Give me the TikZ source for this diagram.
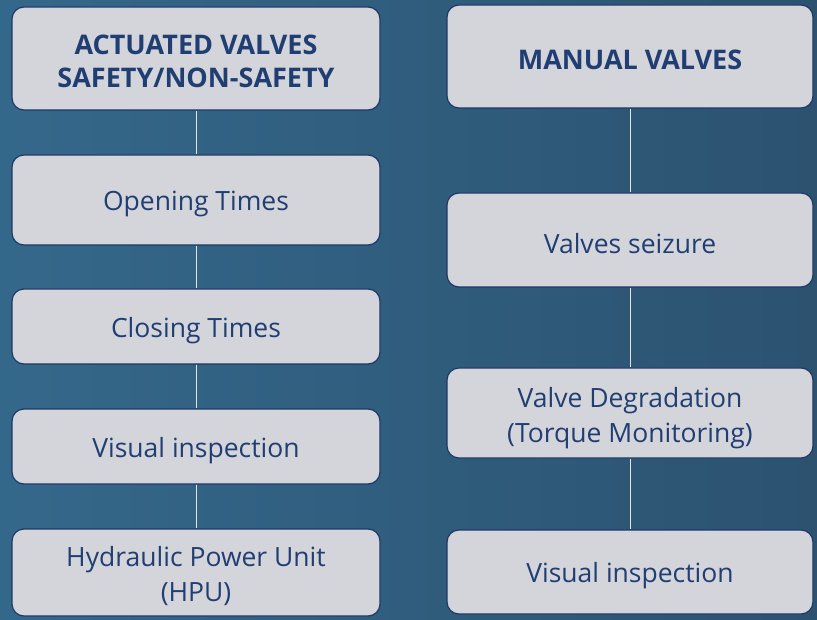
\documentclass[tikz,border=0pt]{standalone}
\usepackage{fontspec}
\setmainfont{Open Sans}
\definecolor{bgL}{RGB}{52,104,138}
\definecolor{bgR}{RGB}{44,82,112}
\definecolor{boxfill}{RGB}{212,213,219}
\definecolor{boxline}{RGB}{30,56,104}
\definecolor{txt}{RGB}{33,62,114}
\definecolor{conn}{RGB}{225,228,232}
\begin{document}
\begin{tikzpicture}[x=1pt,y=-1pt,
  vbox/.style={draw=boxline,line width=1.2pt,fill=boxfill,rounded corners=12pt},
  vtxt/.style={text=txt,align=center,inner sep=0pt,font=\fontsize{26.5}{35}\selectfont},
  htxt/.style={vtxt,font=\fontsize{27}{33}\selectfont\bfseries},
  link/.style={draw=conn,line width=1pt}]
\shade[left color=bgL,right color=bgR] (0,0) rectangle (817,620);
\useasboundingbox (0,0) rectangle (817,620);
% left column
\node[vbox,minimum width=368pt,minimum height=103pt] (a1) at (196,58.5) {};
\node[vbox,minimum width=368pt,minimum height=90pt] (a2) at (196,200) {};
\node[vbox,minimum width=368pt,minimum height=75pt] (a3) at (196,326.5) {};
\node[vbox,minimum width=368pt,minimum height=75pt] (a4) at (196,446.5) {};
\node[vbox,minimum width=368pt,minimum height=87pt] (a5) at (196,572.5) {};
% right column
\node[vbox,minimum width=366pt,minimum height=103pt] (b1) at (630,56.5) {};
\node[vbox,minimum width=366pt,minimum height=94pt] (b2) at (630,240) {};
\node[vbox,minimum width=366pt,minimum height=90pt] (b3) at (630,413) {};
\node[vbox,minimum width=366pt,minimum height=84pt] (b4) at (630,572) {};
% texts
\node[htxt] (ta1) at ([yshift=-3pt]a1.center) {ACTUATED VALVES\\SAFETY/NON-SAFETY};
\node[vtxt] (ta2) at ([yshift=-4pt]a2.center) {Opening Times};
\node[vtxt] (ta3) at ([yshift=-4pt]a3.center) {Closing Times};
\node[vtxt] (ta4) at ([yshift=-4pt]a4.center) {Visual inspection};
\node[vtxt] (ta5) at ([yshift=-4pt]a5.center) {Hydraulic Power Unit\\(HPU)};
\node[htxt] (tb1) at ([yshift=-3pt]b1.center) {MANUAL VALVES};
\node[vtxt] (tb2) at ([yshift=-4pt]b2.center) {Valves seizure};
\node[vtxt] (tb3) at ([yshift=-5pt]b3.center) {Valve Degradation\\(Torque Monitoring)};
\node[vtxt] (tb4) at ([yshift=-4pt]b4.center) {Visual inspection};
\draw[link] (a1) -- (a2);
\draw[link] (a2) -- (a3);
\draw[link] (a3) -- (a4);
\draw[link] (a4) -- (a5);
\draw[link] (b1) -- (b2);
\draw[link] (b2) -- (b3);
\draw[link] (b3) -- (b4);
\end{tikzpicture}
\end{document}
